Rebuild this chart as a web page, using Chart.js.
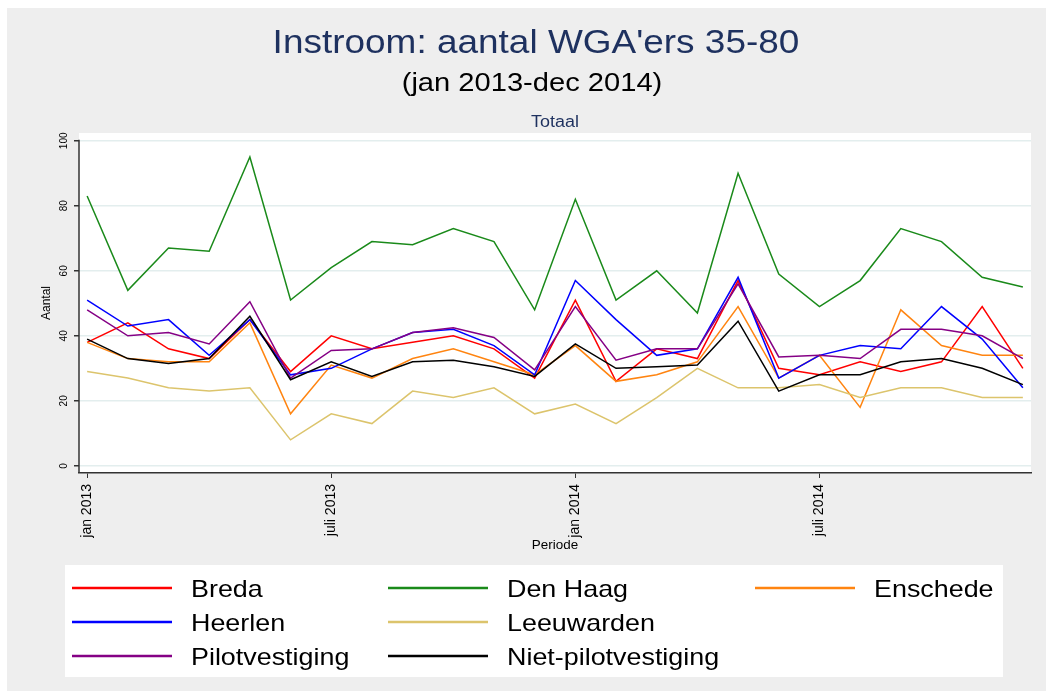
<!DOCTYPE html>
<html>
<head>
<meta charset="utf-8">
<script src="https://cdn.jsdelivr.net/npm/chart.js@4.4.1/dist/chart.umd.min.js"></script>
<style>
    html, body { margin: 0; padding: 0; background: #ffffff; }
    #wrap { width: 1052px; height: 696px; position: relative; }
</style>
</head>
<body>
<div id="wrap"><canvas id="wgaChart"></canvas></div>
<script>
// Data (jan 2013 - dec 2014, one value per month)
const months = ['jan 2013', 'feb 2013', 'mrt 2013', 'apr 2013', 'mei 2013', 'jun 2013',
    'juli 2013', 'aug 2013', 'sep 2013', 'okt 2013', 'nov 2013', 'dec 2013',
    'jan 2014', 'feb 2014', 'mrt 2014', 'apr 2014', 'mei 2014', 'jun 2014',
    'juli 2014', 'aug 2014', 'sep 2014', 'okt 2014', 'nov 2014', 'dec 2014'];

const breda      = [38, 44, 36, 33, 45, 29, 40, 36, 38, 40, 36, 27, 51, 26, 36, 33, 57, 30, 28, 32, 29, 32, 49, 30];
const denHaag    = [83, 54, 67, 66, 95, 51, 61, 69, 68, 73, 69, 48, 82, 51, 60, 47, 90, 59, 49, 57, 73, 69, 58, 55];
const enschede   = [38, 33, 32, 32, 44, 16, 31, 27, 33, 36, 32, 28, 37, 26, 28, 32, 49, 27, 34, 18, 48, 37, 34, 34];
const heerlen    = [51, 43, 45, 34, 45, 28, 30, 36, 41, 42, 37, 28, 57, 45, 34, 36, 58, 27, 34, 37, 36, 49, 39, 24];
const leeuwarden = [29, 27, 24, 23, 24, 8, 16, 13, 23, 21, 24, 16, 19, 13, 21, 30, 24, 24, 25, 21, 24, 24, 21, 21];
const pilot      = [48, 40, 41, 37.5, 50.5, 27, 35.5, 36, 41, 42.5, 39.5, 29.5, 49, 32.5, 36, 36, 56, 33.5, 34, 33, 42, 42, 40, 33];
const nietPilot  = [39, 33, 31.5, 33, 46, 26.5, 32, 27.5, 32, 32.5, 30.5, 27.5, 37.5, 30, 30.5, 31, 44.5, 23, 28, 28, 32, 33, 30, 25];

// Axis ticks
const xTickPos = [0, 6, 12, 18];
const xTickLabels = ['jan 2013', 'juli 2013', 'jan 2014', 'juli 2014'];
const yTicks = [0, 20, 40, 60, 80, 100];

// Legend is filled column by column (3 rows)
const legendOrder = ['Breda', 'Heerlen', 'Pilotvestiging', 'Den Haag', 'Leeuwarden', 'Niet-pilotvestiging', 'Enschede'];

const FONT = "'Liberation Sans', Arial, sans-serif";
const SX = 1.12; // reference text is slightly stretched horizontally
const NAVY = '#1e315f';
const AXIS = '#333333';

const series = [
    { label: 'Breda', data: breda, color: '#ff0000' },
    { label: 'Den Haag', data: denHaag, color: '#1a8a1a' },
    { label: 'Enschede', data: enschede, color: '#ff8410' },
    { label: 'Heerlen', data: heerlen, color: '#0000ff' },
    { label: 'Leeuwarden', data: leeuwarden, color: '#dcc46c' },
    { label: 'Pilotvestiging', data: pilot, color: '#850085' },
    { label: 'Niet-pilotvestiging', data: nietPilot, color: '#000000' }
];

// Text helper: horizontally stretched text
const drawText = (ctx, text, x, y, size, color, align) => {
    ctx.save();
    ctx.font = size + 'px ' + FONT;
    ctx.fillStyle = color;
    ctx.textAlign = align || 'center';
    ctx.textBaseline = 'alphabetic';
    ctx.translate(x, y);
    ctx.scale(SX, 1);
    ctx.fillText(text, 0, 0);
    ctx.restore();
};

const drawRotated = (ctx, text, x, y, size, color) => {
    ctx.save();
    ctx.font = size + 'px ' + FONT;
    ctx.fillStyle = color;
    ctx.textAlign = 'center';
    ctx.textBaseline = 'middle';
    ctx.translate(x, y);
    ctx.rotate(-Math.PI / 2);
    ctx.scale(1, SX);
    ctx.fillText(text, 0, 0);
    ctx.restore();
};

// Background panels (Stata style)
const backgroundPlugin = {
    id: 'stataBackground',
    beforeDraw(chart) {
        const { ctx, chartArea: a } = chart;
        ctx.save();
        ctx.fillStyle = '#ffffff';
        ctx.fillRect(0, 0, chart.width, chart.height);
        ctx.fillStyle = '#eeeeee';
        ctx.fillRect(7, 8, 1039, 683);
        ctx.fillStyle = '#ffffff';
        ctx.fillRect(a.left, a.top, a.right - a.left, a.bottom - a.top);
        ctx.fillRect(65, 565, 938, 112);
        ctx.restore();
    }
};

// Titles, y axis line + tick labels, axis titles and legend
const textPlugin = {
    id: 'stataText',
    afterDraw(chart) {
        const { ctx, chartArea: a, scales } = chart;
        const midPlot = (a.left + a.right) / 2;

        drawText(ctx, "Instroom: aantal WGA'ers 35-80", 536, 53, 33, NAVY);
        drawText(ctx, '(jan 2013-dec 2014)', 532, 91, 26, '#000000');
        drawText(ctx, 'Totaal', midPlot, 127, 16, NAVY);

        // y axis line runs from the top tick down to the x axis
        ctx.save();
        ctx.strokeStyle = AXIS;
        ctx.lineWidth = 1.5;
        ctx.beginPath();
        ctx.moveTo(a.left, scales.y.getPixelForValue(yTicks[yTicks.length - 1]) - 1);
        ctx.lineTo(a.left, a.bottom);
        ctx.stroke();
        ctx.restore();

        yTicks.forEach(v => {
            drawRotated(ctx, String(v), 64, scales.y.getPixelForValue(v), 10, '#000000');
        });
        drawRotated(ctx, 'Aantal', 46, (a.top + a.bottom) / 2, 12, '#000000');
        drawText(ctx, 'Periode', midPlot, 549, 12, '#000000');

        // Legend: 3 rows, filled per column
        const colX = [72, 388, 755];
        const rowY = [588, 622, 656];
        chart.data.datasets.forEach((ds) => {
            const k = legendOrder.indexOf(ds.label);
            const x = colX[Math.floor(k / 3)];
            const y = rowY[k % 3];
            ctx.save();
            ctx.strokeStyle = ds.borderColor;
            ctx.lineWidth = 2.5;
            ctx.beginPath();
            ctx.moveTo(x, y);
            ctx.lineTo(x + 100, y);
            ctx.stroke();
            ctx.restore();
            drawText(ctx, ds.label, x + 119, y + 9, 24, '#000000', 'left');
        });
    }
};

const ctx = document.getElementById('wgaChart').getContext('2d');
const wgaChart = new Chart(ctx, {
    type: 'line',
    data: {
        datasets: series.map((s, i) => ({
            label: s.label,
            data: s.data.map((v, m) => ({ x: m, y: v })),
            borderColor: s.color,
            backgroundColor: s.color,
            borderWidth: 1.5,
            pointRadius: 0,
            tension: 0,
            fill: false,
            order: series.length - i
        }))
    },
    options: {
        responsive: true,
        maintainAspectRatio: false,
        animation: false,
        layout: { padding: { left: 0, top: 133, right: 21, bottom: 0 } },
        plugins: {
            legend: { display: false },
            title: { display: false },
            tooltip: { enabled: false }
        },
        scales: {
            x: {
                type: 'linear',
                min: -0.2,
                max: 23.2,
                afterBuildTicks: (scale) => {
                    scale.ticks = xTickPos.map(v => ({ value: v }));
                },
                afterFit: (scale) => { scale.height = 223; },
                ticks: {
                    minRotation: 90,
                    maxRotation: 90,
                    padding: 6,
                    color: '#000000',
                    font: { family: FONT, size: 14 },
                    callback: (value) => xTickLabels[xTickPos.indexOf(value)]
                },
                grid: {
                    drawOnChartArea: false,
                    drawTicks: true,
                    tickLength: 5,
                    tickColor: AXIS
                },
                border: { display: true, color: AXIS, width: 1.5 }
            },
            y: {
                type: 'linear',
                min: -2.2,
                max: 102.4,
                afterBuildTicks: (scale) => {
                    scale.ticks = yTicks.map(v => ({ value: v }));
                },
                afterFit: (scale) => { scale.width = 79; },
                ticks: { display: false },
                grid: {
                    color: '#e3eeee',
                    lineWidth: 1.5,
                    drawTicks: true,
                    tickLength: 5,
                    tickColor: AXIS
                },
                border: { display: false }
            }
        }
    },
    plugins: [backgroundPlugin, textPlugin]
});
</script>
</body>
</html>
